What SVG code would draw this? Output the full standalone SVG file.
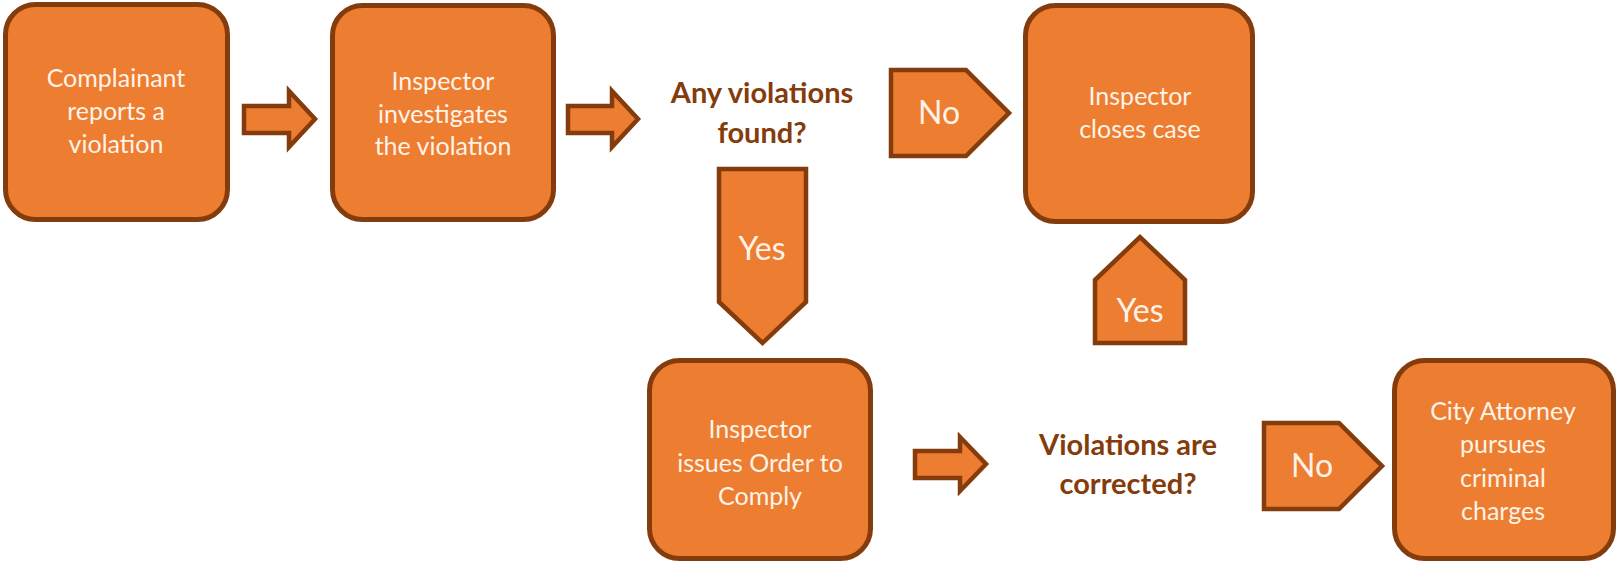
<svg xmlns="http://www.w3.org/2000/svg" width="1618" height="567" viewBox="0 0 1618 567">
<style>
.box{fill:#ED7D31;stroke:#843C0C;stroke-width:5}
.arr{fill:#ED7D31;stroke:#843C0C;stroke-width:4.5;stroke-linejoin:miter}
.t{font-family:Lato,"Open Sans",sans-serif;font-size:25px;fill:#FFF3E8;text-anchor:middle}
.lb{font-family:Lato,"Open Sans",sans-serif;font-size:32px;fill:#FFF3E8;text-anchor:middle}
.q{font-family:Lato,"Open Sans",sans-serif;font-size:29px;font-weight:bold;fill:#843C0C;text-anchor:middle}
</style>
<rect width="1618" height="567" fill="#FFFFFF"/>
<g id="connectors">
  <polygon class="arr" points="244,106 289,106 289,91 315,119 289,147 289,133 244,133"/>
  <polygon class="arr" points="568,106 612,106 612,91 638,119 612,147 612,133 568,133"/>
  <polygon class="arr" points="915,451 960,451 960,437 986,464 960,491 960,478 915,478"/>
  <g id="no1">
    <polygon class="arr" points="891,70 966,70 1009,113 966,156 891,156"/>
    <text class="lb" x="939" y="124">No</text>
  </g>
  <g id="yes1">
    <polygon class="arr" points="719,169 806,169 806,302 762.5,343 719,302"/>
    <text class="lb" x="762" y="260">Yes</text>
  </g>
  <g id="yes2">
    <polygon class="arr" points="1095,343 1095,280 1140,237 1185,280 1185,343"/>
    <text class="lb" x="1140" y="322">Yes</text>
  </g>
  <g id="no2">
    <polygon class="arr" points="1264,423 1339,423 1382,466 1339,509 1264,509"/>
    <text class="lb" x="1312" y="477">No</text>
  </g>
</g>
<g id="n1">
  <rect class="box" x="5.5" y="4.5" width="222" height="215" rx="30"/>
  <text class="t"><tspan x="116" y="87">Complainant</tspan><tspan x="116" y="120">reports a</tspan><tspan x="116" y="153">violation</tspan></text>
</g>
<g id="n2">
  <rect class="box" x="332.5" y="5.5" width="221" height="214" rx="30"/>
  <text class="t"><tspan x="443" y="90">Inspector</tspan><tspan x="443" y="123">investigates</tspan><tspan x="443" y="155">the violation</tspan></text>
</g>
<g id="q1">
  <text class="q"><tspan x="762" y="103">Any violations</tspan><tspan x="762" y="143">found?</tspan></text>
</g>
<g id="n3">
  <rect class="box" x="1025.5" y="5.5" width="227" height="216" rx="30"/>
  <text class="t"><tspan x="1140" y="105">Inspector</tspan><tspan x="1140" y="138">closes case</tspan></text>
</g>
<g id="n4">
  <rect class="box" x="649.5" y="360.5" width="221" height="198" rx="30"/>
  <text class="t"><tspan x="760" y="438">Inspector</tspan><tspan x="760" y="472">issues Order to</tspan><tspan x="760" y="505">Comply</tspan></text>
</g>
<g id="q2">
  <text class="q"><tspan x="1128" y="455">Violations are</tspan><tspan x="1128" y="494">corrected?</tspan></text>
</g>
<g id="n5">
  <rect class="box" x="1394.5" y="360.5" width="219" height="198" rx="30"/>
  <text class="t"><tspan x="1503" y="420">City Attorney</tspan><tspan x="1503" y="453">pursues</tspan><tspan x="1503" y="487">criminal</tspan><tspan x="1503" y="520">charges</tspan></text>
</g>
</svg>
